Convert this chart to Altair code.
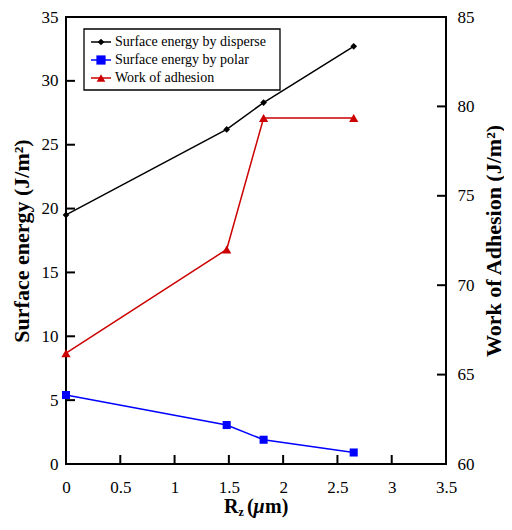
import altair as alt
import pandas as pd

# ---- data ----
rz = [0.0, 1.48, 1.82, 2.65]
disperse = [19.5, 26.2, 28.3, 32.7]
polar = [5.4, 3.05, 1.9, 0.9]
adhesion = [66.2, 72.0, 79.35, 79.35]

series_names = ["Surface energy by disperse", "Surface energy by polar", "Work of adhesion"]
series_colors = ["#000000", "#0000FF", "#CC0000"]
series_shapes = ["diamond", "square", "triangle-up"]
series_sizes = [45, 85, 75]

x_ticks = [0, 0.5, 1, 1.5, 2, 2.5, 3, 3.5]
left_ticks = [0, 5, 10, 15, 20, 25, 30, 35]
right_ticks = [60, 65, 70, 75, 80, 85]

# ---- layout / style ----
W, H = 380, 447
FONT = "Liberation Serif, Times New Roman, Times, serif"
TICK = 9

left_df = pd.DataFrame({
    "rz": rz * 2,
    "val": disperse + polar,
    "series": [series_names[0]] * len(rz) + [series_names[1]] * len(rz),
})
right_df = pd.DataFrame({"rz": rz, "val": adhesion, "series": [series_names[2]] * len(rz)})

xscale = alt.Scale(domain=[0, 3.5], nice=False, zero=False)
yl_scale = alt.Scale(domain=[0, 35], nice=False, zero=False)
yr_scale = alt.Scale(domain=[60, 85], nice=False, zero=False)

x_axis = alt.Axis(values=x_ticks, ticks=False, domain=False, grid=False, labelPadding=15,
                  labelFontSize=17, labelFont=FONT, labelColor="black", title=None,
                  labelFlush=False, labelOverlap=False, format="~g")
yl_axis = alt.Axis(values=left_ticks, ticks=False, domain=False, grid=False, labelPadding=8,
                   labelFontSize=17, labelFont=FONT, labelColor="black",
                   title="Surface energy (J/m²)", titleFont=FONT, titleFontSize=22,
                   titleFontWeight="bold", titleColor="black", titleAngle=270,
                   titleX=-45, titleY=H / 2, titleBaseline="middle", titleAlign="center",
                   labelFlush=False, labelOverlap=False)
yr_axis = alt.Axis(values=right_ticks, ticks=False, domain=False, grid=False, labelPadding=11,
                   labelFontSize=17, labelFont=FONT, labelColor="black", orient="right",
                   title="Work of Adhesion (J/m²)", titleFont=FONT, titleFontSize=22,
                   titleFontWeight="bold", titleColor="black", titleAngle=270,
                   titleX=47, titleY=H / 2, titleBaseline="middle", titleAlign="center",
                   labelFlush=False, labelOverlap=False)

color = alt.Color("series:N", scale=alt.Scale(domain=series_names, range=series_colors), legend=None)
shape = alt.Shape("series:N", scale=alt.Scale(domain=series_names, range=series_shapes), legend=None)
size = alt.Size("series:N", scale=alt.Scale(domain=series_names, range=series_sizes), legend=None)

X = alt.X("rz:Q", scale=xscale, axis=x_axis)

# left axis layers
lt = alt.Chart(pd.DataFrame({"v": left_ticks})).mark_rule(color="black", strokeWidth=2).encode(
    y=alt.Y("v:Q", scale=yl_scale, axis=yl_axis), x=alt.value(0), x2=alt.value(TICK))
bt = alt.Chart(pd.DataFrame({"v": x_ticks})).mark_rule(color="black", strokeWidth=2).encode(
    x=alt.X("v:Q", scale=xscale, axis=x_axis), y=alt.value(H - TICK), y2=alt.value(H))
l_line = alt.Chart(left_df).mark_line(strokeWidth=1.5).encode(
    x=X, y=alt.Y("val:Q", scale=yl_scale, axis=yl_axis), color=color)
l_pts = alt.Chart(left_df).mark_point(filled=True, opacity=1).encode(
    x=X, y=alt.Y("val:Q", scale=yl_scale, axis=yl_axis), color=color, shape=shape, size=size)
left = alt.layer(lt, bt, l_line, l_pts)

# right axis layers
rt = alt.Chart(pd.DataFrame({"v": right_ticks})).mark_rule(color="black", strokeWidth=2).encode(
    y=alt.Y("v:Q", scale=yr_scale, axis=yr_axis), x=alt.value(W - TICK), x2=alt.value(W))
r_line = alt.Chart(right_df).mark_line(strokeWidth=1.5).encode(
    x=X, y=alt.Y("val:Q", scale=yr_scale, axis=yr_axis), color=color)
r_pts = alt.Chart(right_df).mark_point(filled=True, opacity=1).encode(
    x=X, y=alt.Y("val:Q", scale=yr_scale, axis=yr_axis), color=color, shape=shape, size=size)
right = alt.layer(rt, r_line, r_pts)

# manual legend
one = pd.DataFrame({"a": [0]})
extras = [alt.Chart(one).mark_rect(fill="white", stroke="black", strokeWidth=1.3).encode(
    x=alt.value(18), x2=alt.value(214), y=alt.value(12), y2=alt.value(73))]
for i, name in enumerate(series_names):
    yy = 25 + 18 * i
    extras.append(alt.Chart(one).mark_rule(color=series_colors[i], strokeWidth=1.5).encode(
        x=alt.value(25), x2=alt.value(45), y=alt.value(yy)))
    extras.append(alt.Chart(one).mark_point(filled=True, opacity=1, color=series_colors[i],
                                            shape=series_shapes[i], size=series_sizes[i]).encode(
        x=alt.value(35), y=alt.value(yy)))
    extras.append(alt.Chart(one).mark_text(text=name, font=FONT, fontSize=14, align="left",
                                           baseline="middle", color="black").encode(
        x=alt.value(49), y=alt.value(yy)))

# x axis title: R_z (μm)
tb = H + 49
title_parts = [
    ("R", 158, tb, 20, "normal"),
    ("z", 172.5, tb + 3, 12, "normal"),
    ("(", 181, tb, 20, "normal"),
    ("μ", 187.5, tb, 20, "italic"),
    ("m)", 199, tb, 20, "normal"),
]
for txt, px, py, fs, st in title_parts:
    extras.append(alt.Chart(one).mark_text(text=txt, font=FONT, fontSize=fs, fontWeight="bold",
                                           fontStyle=st, align="left", baseline="alphabetic",
                                           color="black").encode(
        x=alt.value(px), y=alt.value(py)))

chart = alt.layer(left, right, *extras).resolve_scale(y="independent").properties(
    width=W, height=H,
    autosize=alt.AutoSizeParams(type="none"),
    padding={"left": 58, "top": 9, "right": 58, "bottom": 55},
).configure_view(stroke="black", strokeWidth=2)

chart.save("out.html", embed_options={"renderer": "svg", "actions": False})
